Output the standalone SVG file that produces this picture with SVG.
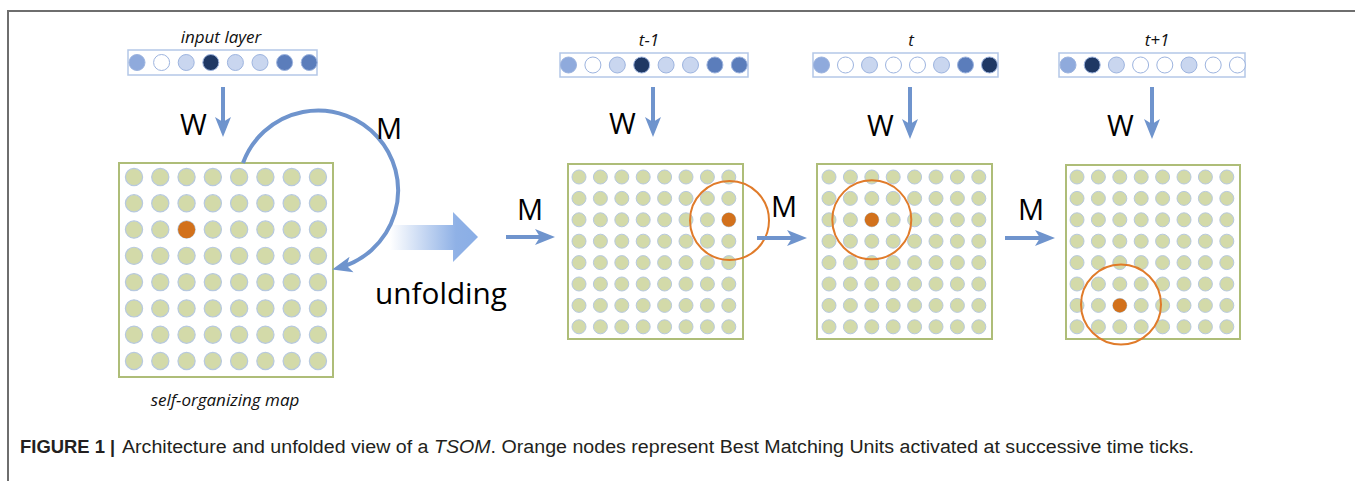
<svg xmlns="http://www.w3.org/2000/svg" xmlns:xlink="http://www.w3.org/1999/xlink" width="1355" height="481" viewBox="0 0 1355 481">
<style>
.frame{stroke:#6e6e6e;stroke-width:2;fill:none}
.bar{fill:#fff;stroke:#b4c7e7;stroke-width:1.5}
.in{stroke:#9db4df;stroke-width:1}
.c0{fill:#fff}.c1{fill:#8faadc}.c2{fill:#c9d6ef}.c3{fill:#1f3864}.c4{fill:#5b7dbb}
.box{fill:#fff;stroke:#aebd78;stroke-width:2}
.cell{fill:#d3daa9;stroke:#b7c9df;stroke-width:1}
.bmu{fill:#d2711c}
.ring{fill:none;stroke:#e07b2a;stroke-width:2}
.lbl{font-family:"Open Sans","Liberation Sans",sans-serif;font-style:italic;font-size:17px;fill:#111;text-anchor:middle}
.big{font-family:"Open Sans","Liberation Sans",sans-serif;font-size:29px;fill:#000}
.con{stroke:#6f94cd;stroke-width:4;fill:none;marker-end:url(#ah)}
.cap{font-family:"Liberation Sans",Arial,sans-serif;font-size:18px;fill:#231f20}
</style>
<defs>
<marker id="ah" markerUnits="userSpaceOnUse" markerWidth="20" markerHeight="18" viewBox="0 0 20 18" refX="14" refY="9" orient="auto"><path d="M0,1 L20,9 L0,17 L5,9 z" fill="#6f94cd"/></marker>
<linearGradient id="ug" gradientUnits="userSpaceOnUse" x1="390" y1="0" x2="478" y2="0"><stop offset="0" stop-color="#ffffff"/><stop offset="0.75" stop-color="#8fb1e6"/><stop offset="1" stop-color="#8aaee6"/></linearGradient>
<g id="row"><circle class="cell" cx="0" cy="0" r="7"/><circle class="cell" cx="21.4" cy="0" r="7"/><circle class="cell" cx="42.8" cy="0" r="7"/><circle class="cell" cx="64.2" cy="0" r="7"/><circle class="cell" cx="85.6" cy="0" r="7"/><circle class="cell" cx="107" cy="0" r="7"/><circle class="cell" cx="128.4" cy="0" r="7"/><circle class="cell" cx="149.8" cy="0" r="7"/></g>
<g id="grid"><use xlink:href="#row" href="#row" y="0"/><use xlink:href="#row" href="#row" y="21.4"/><use xlink:href="#row" href="#row" y="42.8"/><use xlink:href="#row" href="#row" y="64.2"/><use xlink:href="#row" href="#row" y="85.6"/><use xlink:href="#row" href="#row" y="107"/><use xlink:href="#row" href="#row" y="128.4"/><use xlink:href="#row" href="#row" y="149.8"/></g>
</defs>
<rect width="1355" height="481" fill="#fff"/>
<path class="frame" d="M8,481 L8,11 L1355,11"/>

<g id="input-layer">
<text class="lbl" x="221" y="43">input layer</text>
<rect class="bar" x="128" y="50" width="189" height="25"/>
<g class="in"><circle class="c1" cx="137" cy="62.5" r="8"/><circle class="c0" cx="161.6" cy="62.5" r="8"/><circle class="c2" cx="186.2" cy="62.5" r="8"/><circle class="c3" cx="210.8" cy="62.5" r="8"/><circle class="c2" cx="235.4" cy="62.5" r="8"/><circle class="c2" cx="260" cy="62.5" r="8"/><circle class="c4" cx="284.6" cy="62.5" r="8"/><circle class="c4" cx="309.2" cy="62.5" r="8"/></g>
</g>

<g id="som">
<rect class="box" x="119" y="163" width="214" height="214"/>
<use xlink:href="#grid" href="#grid" transform="translate(134,177) scale(1.228)"/>
<circle class="bmu" cx="186.6" cy="229.6" r="8.6"/>
<text class="lbl" x="225" y="406">self-organizing map</text>
</g>

<g id="unfolding">
<polygon points="390,225 453,225 453,212 478,237 453,262 453,250 390,250" fill="url(#ug)"/>
<text class="big" x="375" y="304" textLength="132" lengthAdjust="spacingAndGlyphs">unfolding</text>
</g>

<g id="input-t-1">
<text class="lbl" x="649" y="46">t-1</text>
<rect class="bar" x="560" y="53" width="188" height="24"/>
<g class="in"><circle class="c1" cx="568.5" cy="65" r="8"/><circle class="c0" cx="592.9" cy="65" r="8"/><circle class="c2" cx="617.3" cy="65" r="8"/><circle class="c3" cx="641.7" cy="65" r="8"/><circle class="c2" cx="666.1" cy="65" r="8"/><circle class="c2" cx="690.5" cy="65" r="8"/><circle class="c4" cx="714.9" cy="65" r="8"/><circle class="c4" cx="739.3" cy="65" r="8"/></g>
</g>
<g id="map-t-1">
<rect class="box" x="568" y="164" width="175" height="175"/>
<use xlink:href="#grid" href="#grid" transform="translate(579,177)"/>
<circle class="bmu" cx="728.8" cy="219.8" r="7"/>
<circle class="ring" cx="729.5" cy="220.5" r="39.5"/>
</g>

<g id="input-t">
<text class="lbl" x="911" y="46">t</text>
<rect class="bar" x="813" y="53" width="185" height="24"/>
<g class="in"><circle class="c1" cx="821.5" cy="65" r="8"/><circle class="c0" cx="845.5" cy="65" r="8"/><circle class="c2" cx="869.5" cy="65" r="8"/><circle class="c0" cx="893.5" cy="65" r="8"/><circle class="c0" cx="917.5" cy="65" r="8"/><circle class="c2" cx="941.5" cy="65" r="8"/><circle class="c4" cx="965.5" cy="65" r="8"/><circle class="c3" cx="989.5" cy="65" r="8"/></g>
</g>
<g id="map-t">
<rect class="box" x="817" y="164" width="175" height="175"/>
<use xlink:href="#grid" href="#grid" transform="translate(829,177)"/>
<circle class="bmu" cx="871.8" cy="219.8" r="7"/>
<circle class="ring" cx="871.8" cy="219.8" r="39.5"/>
</g>

<g id="input-t1">
<text class="lbl" x="1157" y="46">t+1</text>
<rect class="bar" x="1059" y="53" width="186" height="24"/>
<g class="in"><circle class="c1" cx="1068" cy="65" r="8"/><circle class="c3" cx="1092.2" cy="65" r="8"/><circle class="c2" cx="1116.4" cy="65" r="8"/><circle class="c0" cx="1140.6" cy="65" r="8"/><circle class="c0" cx="1164.8" cy="65" r="8"/><circle class="c2" cx="1189" cy="65" r="8"/><circle class="c0" cx="1213.2" cy="65" r="8"/><circle class="c0" cx="1237.4" cy="65" r="8"/></g>
</g>
<g id="map-t1">
<rect class="box" x="1066" y="165" width="174" height="174"/>
<use xlink:href="#grid" href="#grid" transform="translate(1077,177)"/>
<circle class="bmu" cx="1119.8" cy="305.4" r="7"/>
<circle class="ring" cx="1121" cy="304.5" r="40"/>
</g>

<g id="connectors">
<path class="con" d="M223,87 L223,131"/>
<text class="big" x="180" y="135">W</text>
<path class="con" d="M243,163 A80,80 0 1,1 338,268"/>
<text class="big" x="376" y="139">M</text>
<path class="con" d="M653,87 L653,131"/>
<text class="big" x="609" y="134">W</text>
<path class="con" d="M910,87 L910,133"/>
<text class="big" x="867" y="136">W</text>
<path class="con" d="M1152,87 L1152,133"/>
<text class="big" x="1107" y="136">W</text>
<path class="con" d="M506,237 L549,237"/>
<text class="big" x="517" y="220">M</text>
<path class="con" d="M757,238 L801,238"/>
<text class="big" x="771" y="217">M</text>
<path class="con" d="M1005,238 L1049,238"/>
<text class="big" x="1018" y="220">M</text>
</g>

<g id="caption">
<text class="cap" x="20" y="453" font-weight="bold" textLength="85" lengthAdjust="spacingAndGlyphs">FIGURE 1</text>
<text class="cap" x="110" y="453" font-weight="bold" fill="#555">|</text>
<text class="cap" x="122" y="453" textLength="1072" lengthAdjust="spacingAndGlyphs">Architecture and unfolded view of a <tspan font-style="italic">TSOM</tspan>. Orange nodes represent Best Matching Units activated at successive time ticks.</text>
</g>
</svg>
